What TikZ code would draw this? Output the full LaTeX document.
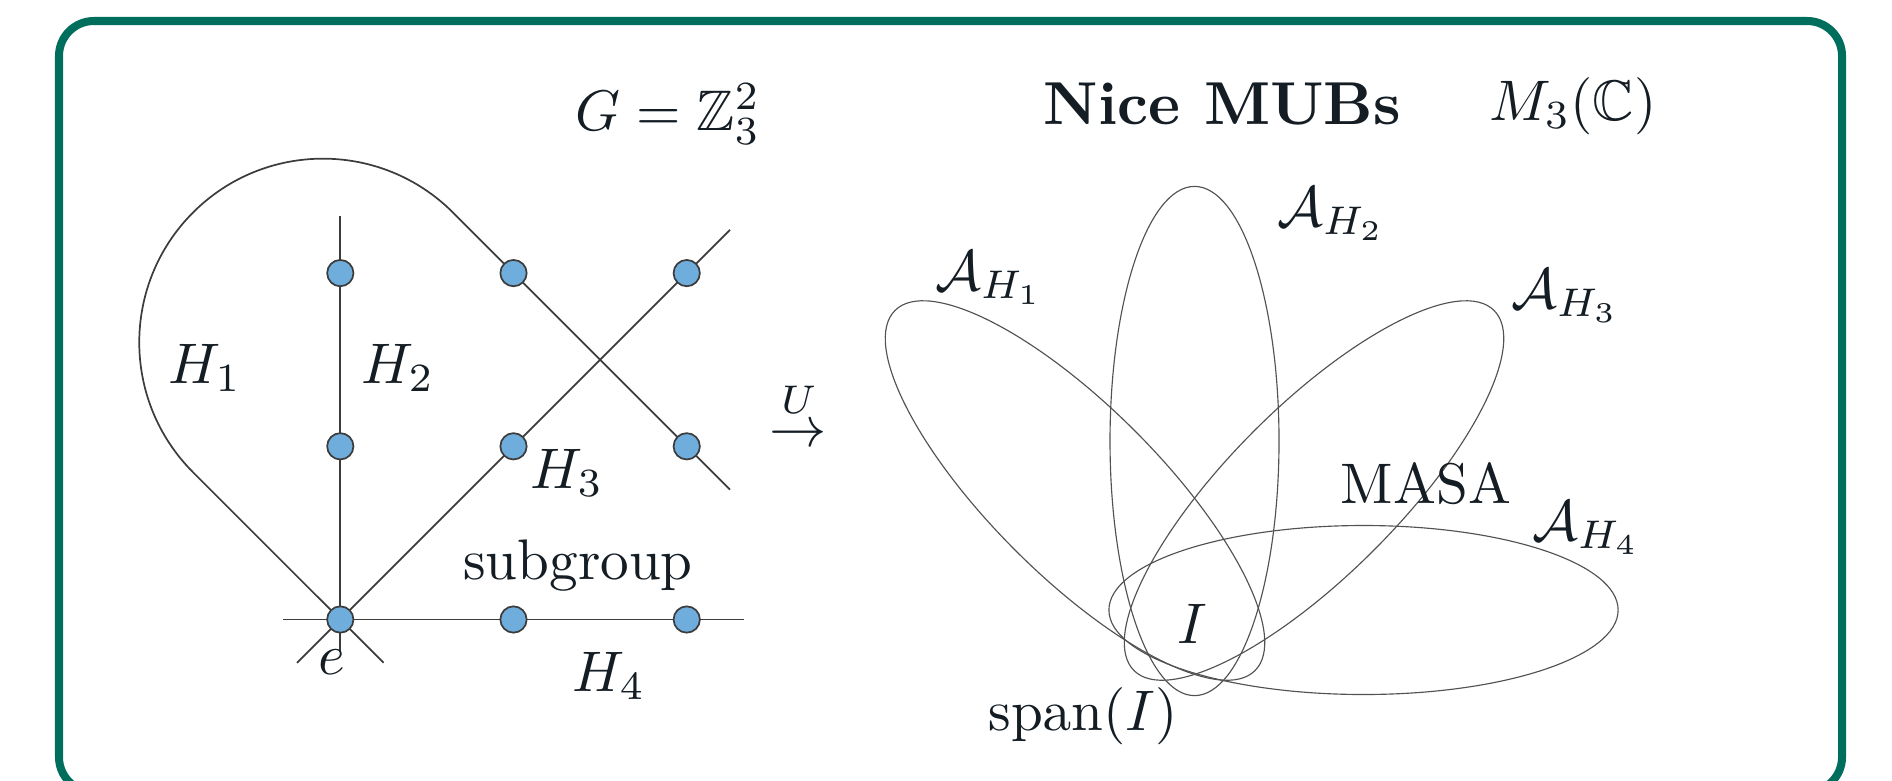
\documentclass[tikz,border=0pt]{standalone}
\usepackage{amsmath,amssymb}
\definecolor{framegreen}{RGB}{0,110,92}
\definecolor{dotblue}{RGB}{111,174,220}
\definecolor{linegray}{RGB}{60,60,60}
\definecolor{textdark}{RGB}{20,28,36}
\begin{document}
\begin{tikzpicture}[x=0.174825pt, y=-0.174825pt,
  frame/.style={draw=framegreen, line width=1.4pt, rounded corners=6.1pt},
  gline/.style={draw=linegray, line width=0.3pt},
  dot/.style={circle, fill=dotblue, draw=linegray, line width=0.3pt, minimum size=4.6pt, inner sep=0pt},
  ell/.style={draw=black!68, line width=0.2pt},
  lab/.style={inner sep=0pt, text=textdark}]
\useasboundingbox (0,0) rectangle (1892,780);
\draw[frame] (59,21) rectangle (1842,792);

% ---- left: the group Z_3^2 ----
\coordinate (E) at (340.3,619.5);
\begin{scope}[shift={(E)}, x=30.28pt, y=30.28pt]
  \coordinate (c00) at (0,0);
  \coordinate (c10) at (1,0);
  \coordinate (c20) at (2,0);
  \coordinate (c01) at (0,1);
  \coordinate (c02) at (0,2);
  \coordinate (c11) at (1,1);
  \coordinate (c22) at (2,2);
  \coordinate (c12) at (1,2);
  \coordinate (c21) at (2,1);
  \coordinate (h2a) at (0,-0.19);
  \coordinate (h2b) at (0,2.33);
  \coordinate (h4a) at (-0.33,0);
  \coordinate (h4b) at (2.33,0);
  \coordinate (h3a) at (-0.25,-0.25);
  \coordinate (h3b) at (2.25,2.25);
  \coordinate (h1a) at (0.25,-0.25);
  \coordinate (h1b) at (2.25,0.75);
  \coordinate (t1) at (0.65,2.35);
  \draw[gline] (h2a) -- (h2b);
  \draw[gline] (h4a) -- (h4b);
  \draw[gline] (h3a) -- (h3b);
  \draw[gline] (h1b) -- (t1) arc[start angle=45, end angle=225, radius=1.0607] -- (h1a);
  \foreach \c in {00,10,20,01,02,11,22,12,21}
    \node[dot] (n\c) at (c\c) {};
\end{scope}

\node[lab] (h1) at (205,368) {$H_1$};
\node[lab] (h2) at (398,368) {$H_2$};
\node[lab] (h3) at (567,473) {$H_3$};
\node[lab, anchor=base] (sub) at (578,579) {subgroup};
\node[lab] (h4) at (609,676) {$H_4$};
\node[lab] (el) at (332,662) {$e$};
\node[lab, anchor=base] (G) at (668,130) {$G=\mathbb{Z}_3^2$};
\node[lab, anchor=base] (U) at (798.5,446) {$\stackrel{U}{\rightarrow}$};

% ---- right: nice MUBs ----
\node[lab, anchor=base] (nice) at (1222.5,124) {\fontsize{10.6}{12}\selectfont\bfseries Nice MUBs};
\node[lab, anchor=base] (M) at (1573,120) {$M_3(\mathbb{C})$};

\coordinate (P) at (1194.5,610);
\foreach \ang in {135,90,45,0}
  \draw[ell, shift={(P)}, rotate=\ang] (169,0) ellipse (254.6 and 84.5);

\node[lab, anchor=base west] (a1) at (934,290) {$\mathcal{A}_{H_1}$};
\node[lab, anchor=base west] (a2) at (1276,226) {$\mathcal{A}_{H_2}$};
\node[lab, anchor=base west] (a3) at (1510,308) {$\mathcal{A}_{H_3}$};
\node[lab, anchor=base west] (a4) at (1531,540) {$\mathcal{A}_{H_4}$};
\node[lab, anchor=base] (masa) at (1426,503) {MASA};
\node[lab, anchor=base] (I) at (1192,643) {$I$};
\node[lab, anchor=base] (span) at (1083,730) {$\mathrm{span}(I)$};
\end{tikzpicture}
\end{document}
